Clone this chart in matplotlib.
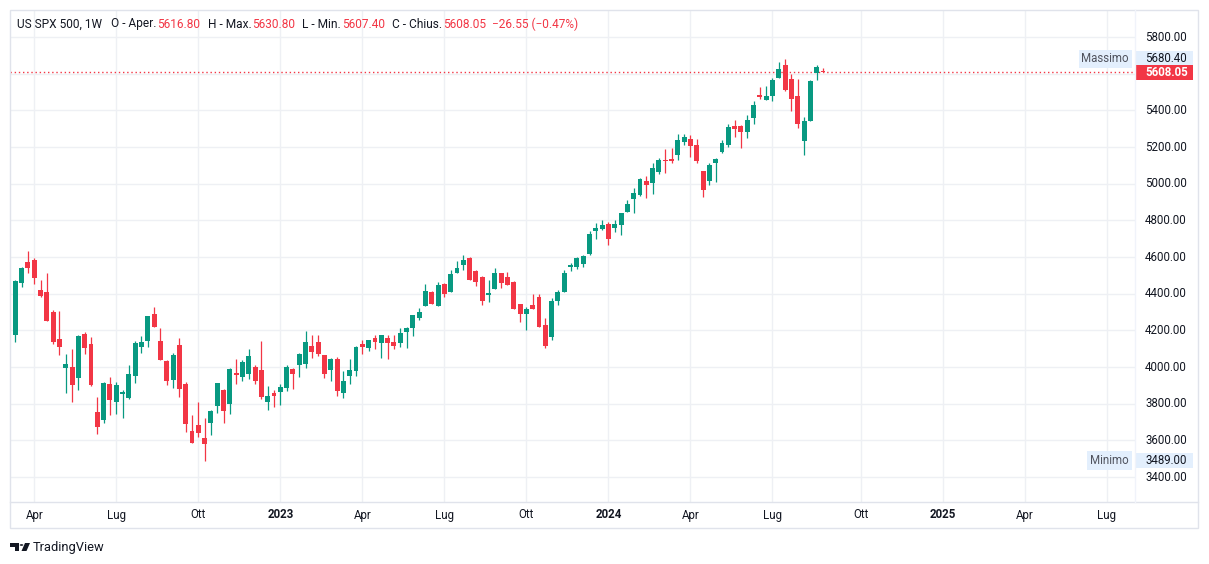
import numpy as np
import pandas as pd
import matplotlib
matplotlib.use('Agg')
import matplotlib.pyplot as plt
import matplotlib.transforms as mtransforms
from matplotlib.patches import Rectangle, Polygon, Circle
from matplotlib.lines import Line2D

plt.rcParams['font.family'] = ['Roboto', 'DejaVu Sans']

# candele settimanali US SPX 500, prima barra = settimana del 7 mar 2022
start = '2022-03-07'
opens = [4180,
         4176, 4460, 4571, 4584, 4420, 4409, 4300, 4153, 3996, 4000,
         3942, 4180, 4125, 3755, 3711, 3907, 3809, 3853, 3831, 3953,
         4111, 4144, 4289, 4142, 4033, 3931, 4120, 3907, 3651, 3684,
         3615, 3696, 3789, 3875, 3800, 3967, 3947, 3964, 4000, 3984,
         3811, 3858, 3865, 3887, 3989, 4011, 4018, 4115, 4136, 4065,
         3984, 4044, 3858, 3951, 3978, 4125, 4104, 4158, 4133, 4158,
         4136, 4133, 4193, 4215, 4269, 4335, 4409, 4335, 4453, 4411,
         4513, 4556, 4595, 4524, 4491, 4395, 4427, 4513, 4491, 4464,
         4344, 4289, 4338, 4382, 4229, 4165, 4362, 4409, 4547, 4547,
         4564, 4616, 4744, 4753, 4780, 4758, 4775, 4845, 4916, 4938,
         5013, 5005, 5065, 5129, 5134, 5156, 5227, 5244, 5211, 5069,
         5016, 5113, 5173, 5211, 5315, 5315, 5282, 5358, 5484, 5456,
         5478, 5576, 5647, 5571, 5478, 5233, 5342, 5604, 5616.80]
highs = [4205,
         4472, 4545, 4633, 4593, 4473, 4513, 4311, 4305, 4071, 4098,
         4172, 4191, 4164, 3836, 3918, 3945, 3918, 3875, 4011, 4142,
         4169, 4280, 4327, 4213, 4036, 4076, 4158, 3918, 3738, 3809,
         3724, 3765, 3915, 3880, 3996, 4044, 4036, 4098, 4011, 4142,
         3896, 3875, 3907, 4011, 3995, 4075, 4196, 4175, 4175, 4068,
         4047, 4055, 3978, 4044, 4112, 4147, 4150, 4175, 4177, 4175,
         4175, 4213, 4216, 4286, 4322, 4453, 4412, 4464, 4458, 4529,
         4578, 4611, 4602, 4529, 4496, 4475, 4540, 4515, 4518, 4467,
         4346, 4327, 4398, 4398, 4267, 4376, 4420, 4529, 4567, 4600,
         4611, 4742, 4785, 4802, 4791, 4802, 4842, 4911, 4976, 5030,
         5042, 5113, 5140, 5189, 5194, 5271, 5271, 5265, 5244, 5071,
         5113, 5140, 5238, 5325, 5347, 5318, 5375, 5451, 5527, 5533,
         5576, 5664, 5680.40, 5598, 5571, 5364, 5565, 5647, 5630.80]
lows = [4170,
        4138, 4438, 4511, 4455, 4382, 4250, 4127, 4065, 3860, 3809,
        3875, 4073, 3898, 3635, 3696, 3738, 3745, 3722, 3828, 3913,
        4078, 4111, 4218, 4038, 3900, 3887, 3838, 3647, 3585, 3620,
        3489, 3631, 3751, 3696, 3745, 3909, 3925, 3935, 3909, 3827,
        3767, 3784, 3795, 3871, 3882, 3945, 3995, 4049, 4060, 3940,
        3924, 3842, 3831, 3909, 3951, 4071, 4087, 4098, 4051, 4045,
        4098, 4111, 4105, 4171, 4258, 4333, 4342, 4333, 4384, 4409,
        4511, 4529, 4473, 4442, 4338, 4353, 4425, 4433, 4445, 4314,
        4245, 4202, 4314, 4218, 4105, 4149, 4340, 4407, 4525, 4536,
        4547, 4611, 4698, 4750, 4665, 4736, 4720, 4843, 4840, 4933,
        4922, 4944, 5054, 5058, 5113, 5129, 5211, 5145, 5113, 4929,
        4993, 5009, 5167, 5200, 5255, 5194, 5249, 5325, 5462, 5454,
        5451, 5574, 5505, 5396, 5304, 5156, 5340, 5565, 5607.40]
closes = [4200,
          4469, 4540, 4542, 4487, 4389, 4253, 4138, 4111, 4016, 3904,
          4169, 4105, 3902, 3675, 3913, 3820, 3902, 3864, 3962, 4131,
          4136, 4278, 4220, 4040, 3925, 4065, 3882, 3691, 3587, 3638,
          3580, 3760, 3913, 3762, 3989, 3958, 4027, 4060, 3924, 3838,
          3842, 3842, 3891, 4000, 3964, 4071, 4136, 4082, 4071, 3962,
          4044, 3869, 3924, 3984, 4109, 4109, 4147, 4135, 4175, 4133,
          4116, 4185, 4213, 4284, 4300, 4415, 4345, 4447, 4398, 4507,
          4540, 4584, 4475, 4464, 4360, 4404, 4513, 4460, 4447, 4316,
          4289, 4316, 4316, 4220, 4116, 4360, 4409, 4513, 4556, 4595,
          4605, 4725, 4758, 4775, 4698, 4780, 4840, 4889, 4949, 5025,
          4995, 5085, 5129, 5124, 5124, 5238, 5255, 5205, 5124, 4967,
          5102, 5135, 5222, 5309, 5298, 5282, 5347, 5429, 5475, 5478,
          5565, 5625, 5511, 5462, 5325, 5342, 5560, 5634.60, 5608.05]

mesi = {4: 'Apr', 7: 'Lug', 10: 'Ott'}
price_ticks = np.arange(3400, 5801, 200)

UP, DOWN = '#089981', '#f23645'
TXT = '#131722'
GRID = '#eef0f4'
BORDER = '#e0e3eb'

W, H = 1209, 564
fig = plt.figure(figsize=(W / 100, H / 100), dpi=100)
L, R, T, B = 10, 1135, 10, 501.5
ax = fig.add_axes([L / W, 1 - B / H, (R - L) / W, (B - T) / H])
x_max = 178.45
ax.set_xlim(0.16, x_max)
ax.set_ylim(3266.4, 5947.3)
for s in ax.spines.values():
    s.set_visible(False)
ax.set_xticks([])
ax.set_yticks([])

o = np.array(opens, float)
h = np.array(highs, float)
l = np.array(lows, float)
c = np.array(closes, float)
x = np.arange(len(o))
col = np.where(c >= o, UP, DOWN)

# griglia
dates = pd.date_range(start, periods=int(x_max) + 1, freq='W-MON')
tpos, tlab = [], []
for i in range(1, len(dates)):
    m = dates[i].month
    if m != dates[i - 1].month and m in (1, 4, 7, 10) and i < x_max - 3:
        tpos.append(i)
        tlab.append(str(dates[i].year) if m == 1 else mesi[m])
for p in tpos:
    ax.axvline(p, color=GRID, lw=1, zorder=0)
for p in price_ticks:
    ax.axhline(p, color=GRID, lw=1, zorder=0)

# candele
ax.vlines(x, l, h, colors=col, lw=0.9, zorder=3)
body = np.maximum(np.abs(c - o), 6)
ax.bar(x, body, bottom=(o + c) / 2 - body / 2, width=0.78, color=col,
       linewidth=0, zorder=4)

# linea prezzo corrente
ax.axhline(c[-1], color=DOWN, lw=1, ls=(0, (1, 2)), zorder=2)

# etichette asse tempo
tr_x = mtransforms.blended_transform_factory(ax.transData, ax.transAxes)
for p, s in zip(tpos, tlab):
    ax.text(p, -(515 - B) / (B - T), s, transform=tr_x, ha='center', va='center',
            fontsize=8.3, color=TXT, fontweight='bold' if s.isdigit() else 'normal',
            clip_on=False)

# etichette asse prezzi
tr_y = mtransforms.blended_transform_factory(ax.transAxes, ax.transData)
ax_w = R - L
for p in price_ticks:
    ax.text(1 + 10 / ax_w, p, f'{p:.2f}', transform=tr_y, ha='left', va='center',
            fontsize=8.3, color=TXT, clip_on=False, zorder=5)

box_h = 15 * (ax.get_ylim()[1] - ax.get_ylim()[0]) / (B - T)


def price_label(v, fc, tc, bold=False):
    ax.add_patch(Rectangle((1.0, v - box_h / 2), 58 / ax_w, box_h, transform=tr_y,
                           fc=fc, ec='none', clip_on=False, zorder=10))
    ax.text(1 + 10 / ax_w, v, f'{v:.2f}', transform=tr_y, ha='left', va='center',
            fontsize=8.3, color=tc, fontweight='bold' if bold else 'normal',
            clip_on=False, zorder=11)


hi, lo = h.max(), l.min()
price_label(hi, '#e3effd', TXT)
price_label(lo, '#e3effd', TXT)
price_label(c[-1], DOWN, 'white', bold=True)
for v, s in ((hi, 'Massimo'), (lo, 'Minimo')):
    ax.text(1 - 6 / ax_w, v, s, transform=tr_y, ha='right', va='center',
            fontsize=8.3, color='#50535e', clip_on=False, zorder=11,
            bbox=dict(boxstyle='square,pad=0.25', fc='#e3effd', ec='none'))


def fx(px):
    return px / W


def fy(py):
    return 1 - py / H


# cornice
fig.add_artist(Rectangle((fx(9.5), fy(528)), fx(1198 - 9.5), (528 - 10) / H,
                         transform=fig.transFigure, fill=False, ec=BORDER, lw=1))
fig.add_artist(Line2D([fx(9.5), fx(1198)], [fy(B), fy(B)], color=BORDER, lw=1))
fig.add_artist(Line2D([fx(R), fx(R)], [fy(10), fy(B)], color='#f0f3fa', lw=1))

# legenda in alto
r = fig.canvas.get_renderer()
pieces = [('US SPX 500, 1W', TXT, 9), ('O - Aper.', TXT, 1), (f'{o[-1]:.2f}', DOWN, 7),
          ('H - Max.', TXT, 1), (f'{h[-1]:.2f}', DOWN, 7),
          ('L - Min.', TXT, 1), (f'{l[-1]:.2f}', DOWN, 7),
          ('C - Chius.', TXT, 1), (f'{c[-1]:.2f}', DOWN, 6)]
chg = c[-1] - c[-2]
pieces.append((f'\u2212{abs(chg):.2f} (\u2212{abs(chg) / c[-2] * 100:.2f}%)', DOWN, 0))
xp = 17
for s, cc, gap in pieces:
    t = fig.text(fx(xp), fy(24), s, color=cc, fontsize=8.6, ha='left', va='center')
    xp += t.get_window_extent(r).width + gap

# logo
fig.add_artist(Polygon([(fx(10), fy(543)), (fx(19), fy(543)), (fx(19), fy(551)),
                        (fx(15), fy(551)), (fx(15), fy(546.5)), (fx(10), fy(546.5))],
                       closed=True, transform=fig.transFigure, fc=TXT, ec='none'))
fig.add_artist(Circle((fx(21.5), fy(545)), 1.8 / W, transform=fig.transFigure,
                      fc=TXT, ec='none'))
fig.add_artist(Polygon([(fx(25), fy(543)), (fx(30), fy(543)), (fx(26.5), fy(551)),
                        (fx(21.5), fy(551))], closed=True, transform=fig.transFigure,
                       fc=TXT, ec='none'))
fig.text(fx(33), fy(547), 'TradingView', fontsize=9.3, color=TXT, ha='left', va='center')

fig.savefig('out.png', dpi=100, facecolor='white')
